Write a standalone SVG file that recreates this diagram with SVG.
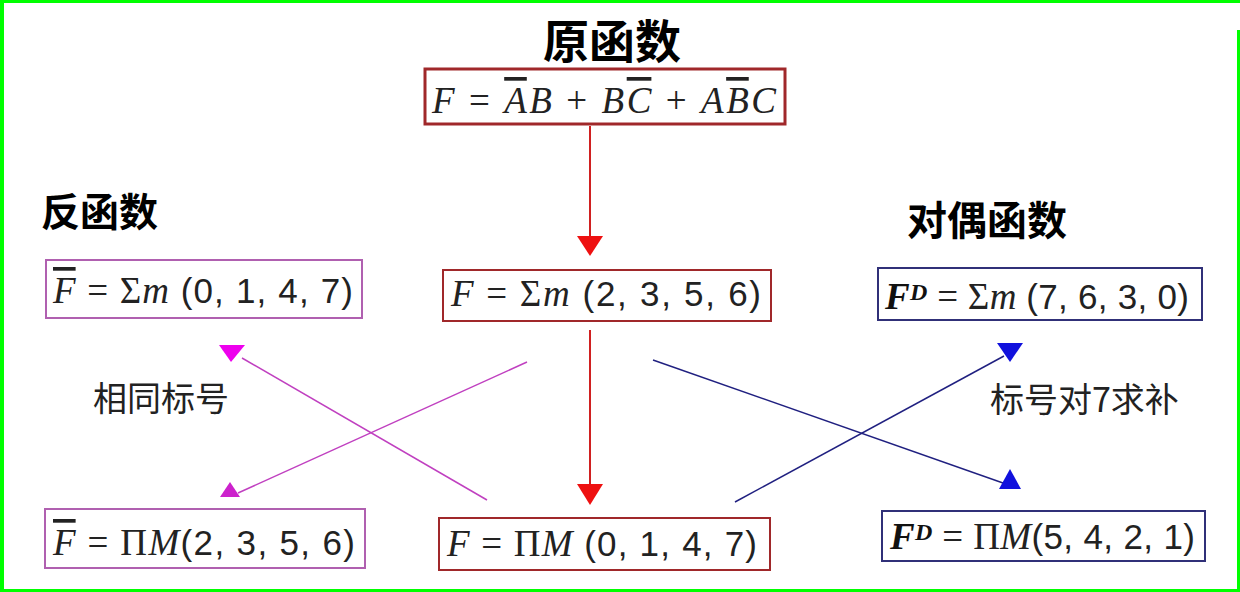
<svg xmlns="http://www.w3.org/2000/svg" width="1240" height="592" viewBox="0 0 1240 592">
<defs>
<style>
.title{font-family:"Noto Sans CJK SC","Noto Sans",sans-serif;font-weight:bold;fill:#000}
.lbl{font-family:"Noto Sans CJK SC","Noto Sans",sans-serif;font-size:34px;fill:#222}
.f{font-family:"Liberation Serif",serif;font-size:37px;fill:#222}
.i{font-style:italic}
.n{font-family:"Liberation Sans",sans-serif;font-size:35px;font-weight:normal;font-style:normal}
.ov{text-decoration:overline}
.fd{font-family:"Liberation Serif",serif;font-weight:bold;font-style:italic;fill:#111}
.red{stroke:#a0282a;fill:#fff}
.pur{stroke:#b060b0;fill:#fff}
.nav{stroke:#303078;fill:#fff}
</style>
</defs>
<rect x="0" y="0" width="1240" height="592" fill="#fff"/>
<g id="border" fill="#00ff00">
<rect x="0" y="0" width="1240" height="3"/>
<rect x="0" y="0" width="4" height="592"/>
<rect x="0" y="589" width="1240" height="3"/>
<rect x="1237" y="30" width="3" height="562"/>
</g>

<g id="titles">
<text class="title" x="612" y="58" font-size="46" text-anchor="middle">原函数</text>
<text class="title" x="41" y="226" font-size="39">反函数</text>
<text class="title" x="907" y="235" font-size="40">对偶函数</text>
<text class="lbl" x="93" y="411">相同标号</text>
<text class="lbl" x="990" y="412">标号对7求补</text>
</g>

<g id="connectors">
<line x1="590" y1="126" x2="590" y2="240" stroke="#d02020" stroke-width="2"/>
<polygon points="577,236 603,236 590,256" fill="#ee1111"/>
<line x1="590" y1="330" x2="590" y2="488" stroke="#d02020" stroke-width="2"/>
<polygon points="577,484 603,484 590,505" fill="#ee1111"/>
<line x1="527" y1="362" x2="238" y2="493" stroke="#c040c0" stroke-width="1.5"/>
<polygon points="230,482 220,497 240,497" fill="#cc22cc"/>
<line x1="487" y1="500" x2="242" y2="358" stroke="#c040c0" stroke-width="1.5"/>
<polygon points="219,345 245,345 231,362" fill="#ee00ee"/>
<line x1="653" y1="360" x2="1003" y2="483" stroke="#202080" stroke-width="1.5"/>
<polygon points="1010,469 999,489 1021,489" fill="#1111dd"/>
<line x1="735" y1="502" x2="1004" y2="356" stroke="#202080" stroke-width="1.5"/>
<polygon points="997,343 1023,343 1010,362" fill="#1111dd"/>
</g>

<g id="node-orig">
<rect class="red" x="425" y="69" width="360" height="55" stroke-width="3"/>
<text class="f" x="432" y="113" font-size="40" textLength="344" lengthAdjust="spacing"><tspan class="i">F</tspan> = <tspan class="i ov">A</tspan><tspan class="i">B</tspan> + <tspan class="i">B</tspan><tspan class="i ov">C</tspan> + <tspan class="i">A</tspan><tspan class="i ov">B</tspan><tspan class="i">C</tspan></text>
</g>

<g id="node-inv-sum">
<rect class="pur" x="46" y="260" width="316" height="58" stroke-width="2"/>
<text class="f" x="53" y="303" textLength="300" lengthAdjust="spacing"><tspan class="i ov">F</tspan> = Σ<tspan class="i">m</tspan> <tspan class="n">(0, 1, 4, 7)</tspan></text>
</g>

<g id="node-sum">
<rect class="red" x="443" y="270" width="328" height="51" stroke="#a04040" stroke-width="2"/>
<text class="f" x="451" y="306" textLength="310" lengthAdjust="spacing"><tspan class="i">F</tspan> = Σ<tspan class="i">m</tspan> <tspan class="n">(2, 3, 5, 6)</tspan></text>
</g>

<g id="node-dual-sum">
<rect class="nav" x="878" y="268" width="324" height="52" stroke-width="2"/>
<text class="f" x="885" y="309" textLength="304" lengthAdjust="spacing"><tspan class="fd">F</tspan><tspan class="fd" font-size="24" dy="-9">D</tspan><tspan dy="9"> = Σ</tspan><tspan class="i">m</tspan> <tspan class="n">(7, 6, 3, 0)</tspan></text>
</g>

<g id="node-inv-prod">
<rect class="pur" x="45" y="509" width="320" height="59" stroke-width="2"/>
<text class="f" x="53" y="555" textLength="302" lengthAdjust="spacing"><tspan class="i ov">F</tspan> = Π<tspan class="i">M</tspan><tspan class="n">(2, 3, 5, 6)</tspan></text>
</g>

<g id="node-prod">
<rect class="red" x="439" y="518" width="331" height="52" stroke="#a04040" stroke-width="2"/>
<text class="f" x="447" y="556" textLength="310" lengthAdjust="spacing"><tspan class="i">F</tspan> = Π<tspan class="i">M</tspan> <tspan class="n">(0, 1, 4, 7)</tspan></text>
</g>

<g id="node-dual-prod">
<rect class="nav" x="882" y="511" width="323" height="50" stroke-width="2"/>
<text class="f" x="890" y="549" textLength="305" lengthAdjust="spacing"><tspan class="fd">F</tspan><tspan class="fd" font-size="24" dy="-9">D</tspan><tspan dy="9"> = Π</tspan><tspan class="i">M</tspan><tspan class="n">(5, 4, 2, 1)</tspan></text>
</g>
</svg>
